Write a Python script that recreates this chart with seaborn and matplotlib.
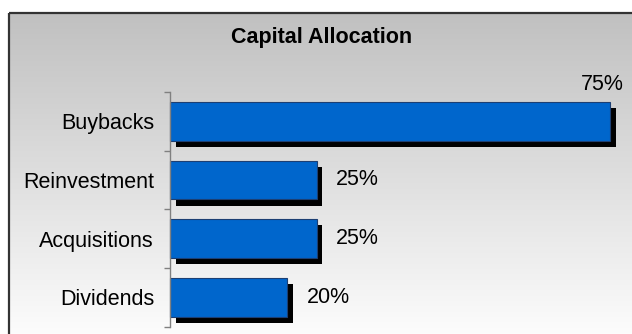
import numpy as np
import pandas as pd
import matplotlib
matplotlib.use("Agg")
import matplotlib.pyplot as plt
import matplotlib.patheffects as pe
from matplotlib.patches import Rectangle
from matplotlib.ticker import FixedLocator
import seaborn as sns

# ---- data ----
categories = ["Buybacks", "Reinvestment", "Acquisitions", "Dividends"]
values = [75, 25, 25, 20]
value_labels = ["75%", "25%", "25%", "20%"]
title = "Capital Allocation"

sns.set_style("white")
plt.rcParams["font.family"] = ["Liberation Sans", "DejaVu Sans"]

W, H = 632, 334
fig = plt.figure(figsize=(W / 100, H / 100), dpi=100)
fig.patch.set_facecolor("white")

# background frame with vertical gradient
bg = fig.add_axes([0, 0, 1, 1], zorder=0)
bg.axis("off")
grad = np.linspace(0, 1, 256).reshape(-1, 1)
cmap = matplotlib.colors.LinearSegmentedColormap.from_list("g", ["#c0c0c0", "#fdfdfd"])
bg.imshow(grad, cmap=cmap, aspect="auto", extent=[9, W + 5, H + 5, 12.5], origin="upper")
bg.add_patch(Rectangle((9, 12.5), W, H, fill=False, edgecolor="#333333", linewidth=1.6))
bg.set_xlim(0, W)
bg.set_ylim(H, 0)

# main axes
left, right = 170 / W, 610 / W
bottom, top = (H - 326.5) / H, (H - 92) / H
ax = fig.add_axes([left, bottom, right - left, top - bottom], zorder=1)
ax.patch.set_alpha(0)

df = pd.DataFrame({"category": categories, "value": values})
sns.barplot(data=df, x="value", y="category", orient="h", order=categories,
            color="#0066CC", saturation=1, width=0.66, edgecolor="#1c3f73",
            linewidth=0.8, ax=ax)

for p in ax.patches:
    p.set_clip_on(False)
    p.set_path_effects([
        pe.SimplePatchShadow(offset=(4.0, -4.5), shadow_rgbFace="black", alpha=1.0),
        pe.Normal(),
    ])

ax.set_xlim(0, 75)
ax.set_ylim(3.5, -0.5)
ax.set_xlabel("")
ax.set_ylabel("")
ax.set_xticks([])

for s in ["top", "right", "bottom"]:
    ax.spines[s].set_visible(False)
ax.spines["left"].set_color("#808080")
ax.spines["left"].set_linewidth(1.0)

ax.yaxis.set_minor_locator(FixedLocator([-0.5, 0.5, 1.5, 2.5, 3.5]))
ax.tick_params(axis="y", which="major", length=0, pad=11.5, labelsize=15.5, labelcolor="black")
ax.tick_params(axis="y", which="minor", length=4, width=1.0, color="#808080", direction="out", left=True)

# value labels
for i, (v, lab) in enumerate(zip(values, value_labels)):
    if v >= 70:
        ax.text(v + 2.4, i - 0.62, lab, ha="right", va="center", fontsize=15.5,
                color="black", clip_on=False)
    else:
        ax.text(v + 3.3, i, lab, ha="left", va="center", fontsize=15.5,
                color="black", clip_on=False)

fig.text(322 / W, 1 - 37 / H, title, ha="center", va="center",
         fontsize=15.5, fontweight="bold", color="black")

fig.savefig("out.png", dpi=100)
